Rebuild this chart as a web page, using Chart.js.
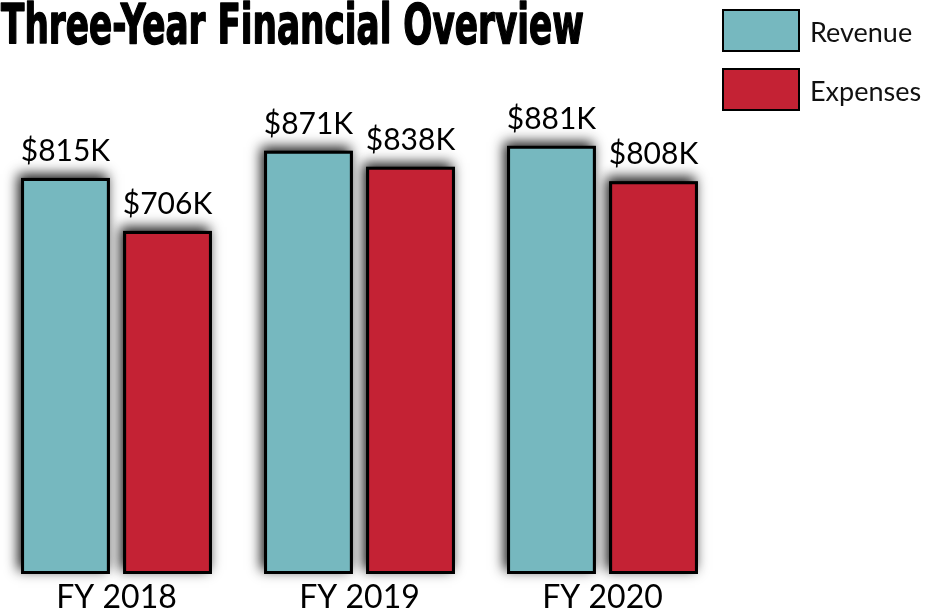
<!DOCTYPE html>
<html>
<head>
<meta charset="utf-8">
<script src="https://cdn.jsdelivr.net/npm/chart.js@4"></script>
<style>
  html, body { margin: 0; padding: 0; background: #fff; overflow: hidden; }
  #wrap { position: relative; width: 932px; height: 616px; overflow: hidden; }
  #chart { position: absolute; left: -5px; top: 0; }
</style>
</head>
<body>
<div id="wrap"><canvas id="chart" width="937" height="622"></canvas></div>
<script>
// chart data
const years = ['FY 2018', 'FY 2019', 'FY 2020'];
const revenue = [815, 871, 881];
const expenses = [706, 838, 808];
const seriesNames = ['Revenue', 'Expenses'];
const seriesColors = ['#76b8bf', '#c42234'];

const titleText = 'Three-Year Financial Overview';
const SHIFT = 5; // canvas sits 5px left of the page

// soft dark shadow behind each bar, drawn before the bars themselves
const barShadow = {
    id: 'barShadow',
    beforeDatasetsDraw(chart) {
        const ctx = chart.ctx;
        ctx.save();
        ctx.shadowColor = 'rgba(0,0,0,0.9)';
        ctx.shadowBlur = 12;
        ctx.shadowOffsetX = -3;
        ctx.shadowOffsetY = -4;
        ctx.fillStyle = '#000';
        chart.data.datasets.forEach((ds, i) => {
            chart.getDatasetMeta(i).data.forEach(bar => {
                const p = bar.getProps(['x', 'y', 'base', 'width'], true);
                ctx.fillRect(p.x - p.width / 2, p.y, p.width, p.base - p.y);
            });
        });
        ctx.restore();
    },
    afterDatasetsDraw(chart) {
        const ctx = chart.ctx;
        ctx.save();
        ctx.font = '30px Lato';
        ctx.fillStyle = '#000';
        ctx.textAlign = 'center';
        ctx.textBaseline = 'alphabetic';
        chart.data.datasets.forEach((ds, i) => {
            chart.getDatasetMeta(i).data.forEach((bar, j) => {
                ctx.fillText('$' + ds.data[j] + 'K', bar.x, bar.y - 17);
            });
        });
        ctx.restore();
    }
};

// title + legend boxes
const decor = {
    id: 'decor',
    afterDraw(chart) {
        const ctx = chart.ctx;
        ctx.save();
        ctx.font = 'bold 55px "DejaVu Sans Condensed", "DejaVu Sans"';
        ctx.fillStyle = '#000';
        ctx.strokeStyle = '#000';
        ctx.lineWidth = 1.5;
        ctx.lineJoin = 'round';
        ctx.textBaseline = 'alphabetic';
        let w = ctx.measureText(titleText).width;
        ctx.translate(SHIFT + 1, 43);
        ctx.scale(583 / w, 1);
        ctx.fillText(titleText, 0, 0);
        ctx.strokeText(titleText, 0, 0);
        ctx.restore();

        ctx.save();
        chart.data.datasets.forEach((ds, i) => {
            let y = 9 + i * 59;
            ctx.fillStyle = ds.backgroundColor;
            ctx.fillRect(722 + SHIFT, y, 78, 43);
            ctx.lineWidth = 2;
            ctx.strokeStyle = '#000';
            ctx.strokeRect(723 + SHIFT, y + 1, 76, 41);
            ctx.fillStyle = '#111';
            ctx.font = '27px Lato';
            ctx.textBaseline = 'middle';
            ctx.fillText(ds.label, 810 + SHIFT, y + 24);
        });
        ctx.restore();
    }
};

new Chart(document.getElementById('chart'), {
    type: 'bar',
    data: {
        labels: years,
        datasets: [
            { label: seriesNames[0], data: revenue, backgroundColor: seriesColors[0] },
            { label: seriesNames[1], data: expenses, backgroundColor: seriesColors[1] }
        ]
    },
    options: {
        responsive: false,
        animation: false,
        devicePixelRatio: 1,
        layout: { padding: { left: 0, right: 208, top: 88, bottom: 0 } },
        datasets: {
            bar: {
                borderColor: '#000',
                borderWidth: 3,
                borderSkipped: false,
                categoryPercentage: 0.84,
                barPercentage: 0.87
            }
        },
        plugins: {
            legend: { display: false },
            title: { display: false },
            tooltip: { enabled: false }
        },
        scales: {
            x: {
                grid: { display: false, drawTicks: false },
                border: { display: false },
                ticks: { color: '#000', font: { family: 'Lato', size: 32, lineHeight: 1 }, padding: 8 }
            },
            y: {
                display: false,
                min: 0,
                max: 1000
            }
        }
    },
    plugins: [barShadow, decor]
});
</script>
</body>
</html>
